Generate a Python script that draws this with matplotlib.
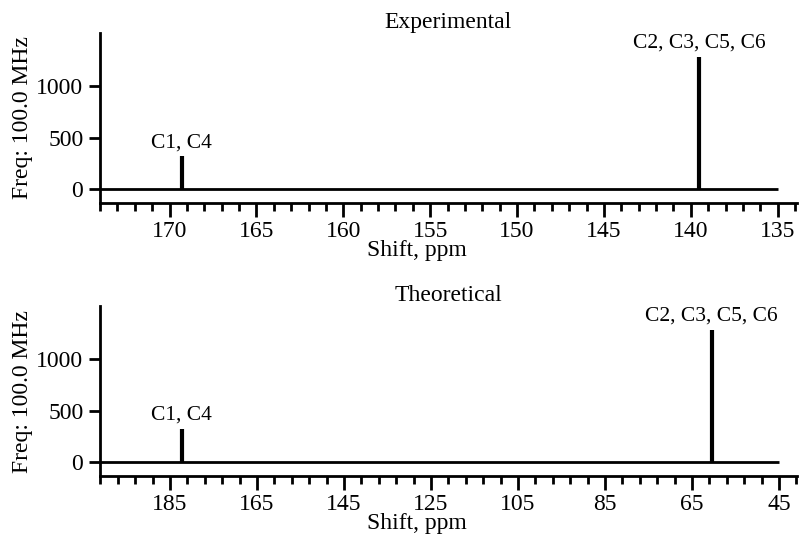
import matplotlib
matplotlib.use("Agg")
import matplotlib.pyplot as plt
from matplotlib.ticker import MultipleLocator

plt.rcParams['font.family'] = ['Liberation Serif', 'DejaVu Serif']
plt.rcParams['font.size'] = 17

# peak data
peak_labels = ["C1, C4", "C2, C3, C5, C6"]
exp_shift = [169.3, 139.5]
exp_freq = [320, 1285]
theo_shift = [182.3, 60.5]
theo_freq = [323, 1283]

# baseline (zero line) extents, ppm
exp_base = [174.0, 135.0]
theo_base = [201.1, 45.0]


def draw_panel(ax, title, shifts, freqs, base, xlim, major, minor, offset):
    ax.hlines(0, base[0], base[1], color='black', lw=2)
    ax.vlines(shifts, 0, freqs, color='black', lw=3)
    for x, y, lab in zip(shifts, freqs, peak_labels):
        ax.annotate(lab, (x, y), xytext=(0, 3), textcoords='offset points',
                    ha='center', va='bottom', fontsize=15.5)
    ax.set_xlim(xlim)
    ax.set_ylim(-133, 1515)
    ax.xaxis.set_major_locator(MultipleLocator(major, offset=offset))
    ax.xaxis.set_minor_locator(MultipleLocator(minor, offset=offset % minor))
    ax.set_yticks([0, 500, 1000])
    ax.spines['top'].set_visible(False)
    ax.spines['right'].set_visible(False)
    ax.spines['left'].set_linewidth(2)
    ax.spines['bottom'].set_linewidth(2)
    ax.tick_params(which='major', length=10, width=2, pad=3, labelsize=17)
    ax.tick_params(which='minor', length=6, width=2)
    ax.tick_params(axis='y', length=8, pad=4)
    ax.set_title(title, pad=1, fontsize=17)
    ax.set_ylabel('Freq: 100.0 MHz', labelpad=2, fontsize=17)
    ax.set_xlabel('Shift, ppm', labelpad=0, fontsize=17)
    ax.xaxis.set_label_coords(0.455, -0.22)


fig = plt.figure(figsize=(8, 5.36), dpi=100)
ax1 = fig.add_axes([0.125, 0.6213, 0.871, 0.317])
ax2 = fig.add_axes([0.125, 0.1119, 0.871, 0.317])

draw_panel(ax1, 'Experimental', exp_shift, exp_freq, exp_base, (174.0, 133.9), 5, 1, 0)
draw_panel(ax2, 'Theoretical', theo_shift, theo_freq, theo_base, (201.1, 40.9), 20, 4, 5)

fig.savefig('out.png', dpi=100)
